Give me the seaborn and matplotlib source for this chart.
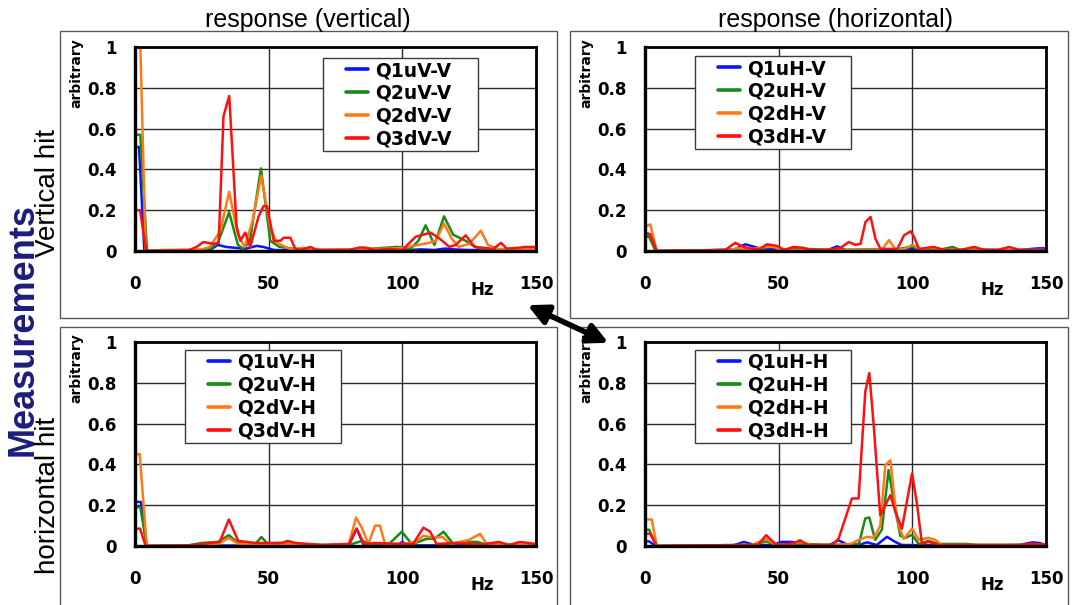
import numpy as np
import pandas as pd
import seaborn as sns
import matplotlib
matplotlib.use("Agg")
import matplotlib.pyplot as plt
from matplotlib.patches import Rectangle, FancyArrowPatch

# ---------------- data ----------------
x_ticks = [0, 50, 100, 150]
y_ticks = [0, 0.2, 0.4, 0.6, 0.8, 1]
y_tick_labels = ["0", "0.2", "0.4", "0.6", "0.8", "1"]
col_titles = ["response (vertical)", "response (horizontal)"]
row_titles = ["Vertical hit", "horizontal hit"]

# Panel: vertical hit, vertical response
tl_names = ["Q1uV-V", "Q2uV-V", "Q2dV-V", "Q3dV-V"]
tl_q1u_f = [0, 1.5, 3.5, 10, 28, 31, 34, 38, 41, 45.5, 48, 52, 60, 100, 107, 112, 116, 119, 125, 140, 150]
tl_q1u_v = [0.51, 0.51, 0, 0.003, 0.005, 0.03, 0.02, 0.015, 0.01, 0.025, 0.02, 0.005, 0.003, 0.003, 0.008, 0.005, 0.012, 0.008, 0.005, 0.005, 0.005]
tl_q2u_f = [0, 2, 4.5, 25, 28, 31, 35.2, 38.5, 40.5, 43, 47.1, 50.6, 54, 60, 70, 85, 98, 100, 103, 106, 108.7, 112, 115.6, 119, 123.7, 126, 130, 140, 150]
tl_q2u_v = [0.57, 0.57, 0, 0.003, 0.01, 0.04, 0.19, 0.03, 0.01, 0.05, 0.405, 0.05, 0.02, 0.01, 0.005, 0.008, 0.02, 0.018, 0.01, 0.05, 0.126, 0.03, 0.17, 0.08, 0.05, 0.03, 0.005, 0.005, 0.005]
tl_q2d_f = [0, 1.5, 4, 10, 25, 28, 32, 35.2, 38.5, 41, 44, 47.2, 50.5, 53, 58, 63, 70, 80, 90, 100, 106, 110, 112.5, 115.6, 118.5, 121, 125, 129.4, 132, 136, 140, 145, 150]
tl_q2d_v = [1.35, 1.25, 0, 0.005, 0.008, 0.02, 0.1, 0.29, 0.08, 0.02, 0.15, 0.37, 0.12, 0.04, 0.01, 0.015, 0.005, 0.008, 0.01, 0.015, 0.03, 0.04, 0.05, 0.135, 0.06, 0.02, 0.035, 0.1, 0.03, 0.01, 0.01, 0.005, 0.01]
tl_q3d_f = [0, 1.9, 4.2, 20, 23, 25.6, 29.4, 31.3, 33.1, 35.25, 38, 39.4, 41.25, 43.1, 46.25, 48.1, 49.4, 51.9, 54.4, 55.6, 58.1, 60, 62, 65.6, 68, 75, 80, 84, 86, 90, 95, 100, 105, 110.6, 114, 117.6, 120, 123.7, 127, 131, 134, 136.9, 139, 143, 146, 150]
tl_q3d_v = [0.2, 0.2, 0, 0.003, 0.02, 0.044, 0.035, 0.04, 0.66, 0.76, 0.12, 0.05, 0.09, 0.02, 0.17, 0.22, 0.22, 0.05, 0.05, 0.065, 0.065, 0.01, 0.005, 0.02, 0.005, 0.005, 0.005, 0.017, 0.017, 0.005, 0.01, 0.005, 0.07, 0.09, 0.06, 0.02, 0.03, 0.077, 0.02, 0.015, 0.01, 0.04, 0.012, 0.015, 0.02, 0.02]

# Panel: vertical hit, horizontal response
tr_names = ["Q1uH-V", "Q2uH-V", "Q2dH-V", "Q3dH-V"]
tr_q1u_f = [0, 1.5, 4, 20, 33, 37.5, 41, 44, 47, 50, 60, 68, 71.9, 75, 85, 100, 110, 120, 130, 140, 147, 150]
tr_q1u_v = [0.085, 0.085, 0, 0.003, 0.005, 0.033, 0.02, 0.008, 0.01, 0.005, 0.005, 0.003, 0.023, 0.005, 0.005, 0.01, 0.005, 0.005, 0.003, 0.005, 0.013, 0.013]
tr_q2u_f = [0, 1.5, 4, 20, 35, 44, 47, 50, 60, 75, 85, 95, 100, 103, 110, 115, 118, 125, 135, 150]
tr_q2u_v = [0.07, 0.07, 0, 0.003, 0.008, 0.01, 0.028, 0.008, 0.01, 0.005, 0.008, 0.01, 0.022, 0.008, 0.005, 0.02, 0.005, 0.008, 0.005, 0.005]
tr_q2d_f = [0, 2, 4.4, 20, 32, 35, 38, 45, 48, 52, 60, 80, 88.7, 91.25, 93.7, 97, 100, 103, 108, 112, 150]
tr_q2d_v = [0.12, 0.13, 0, 0.003, 0.005, 0.015, 0.005, 0.02, 0.02, 0.005, 0.005, 0.005, 0.008, 0.053, 0.008, 0.01, 0.03, 0.008, 0.015, 0.005, 0.005]
tr_q3d_f = [0, 1.9, 4.4, 20, 30, 33.75, 36.9, 40, 43, 45.6, 49.4, 52, 55.6, 59.4, 62, 68, 71.9, 73.1, 76.2, 78.7, 80.6, 82.5, 84.4, 86.2, 88.1, 94.4, 96.9, 99.4, 100.6, 102.5, 108, 112, 118, 123.1, 127, 132, 136.2, 140, 150]
tr_q3d_v = [0.082, 0.082, 0, 0.003, 0.005, 0.04, 0.02, 0.01, 0.01, 0.033, 0.025, 0.005, 0.02, 0.015, 0.005, 0.005, 0.013, 0.015, 0.044, 0.03, 0.035, 0.143, 0.167, 0.06, 0.01, 0.01, 0.077, 0.097, 0.07, 0.01, 0.02, 0.005, 0.005, 0.02, 0.005, 0.005, 0.02, 0.005, 0.003]

# Panel: horizontal hit, vertical response
bl_names = ["Q1uV-H", "Q2uV-H", "Q2dV-H", "Q3dV-H"]
bl_q1u_f = [0, 2.2, 4.4, 20, 80, 82.9, 85.5, 90, 98, 100, 102, 150]
bl_q1u_v = [0.216, 0.216, 0, 0.002, 0.003, 0.085, 0.005, 0.003, 0.003, 0.02, 0.003, 0.003]
bl_q2u_f = [0, 2, 4.4, 20, 25, 31, 35.1, 38.6, 45, 47.3, 49.5, 55, 60, 70, 80, 84.9, 88, 95, 99.8, 103.5, 106, 109, 112, 115.4, 119.1, 122, 128, 132, 140, 150]
bl_q2u_v = [0.19, 0.19, 0, 0.003, 0.015, 0.02, 0.053, 0.015, 0.01, 0.044, 0.012, 0.015, 0.01, 0.005, 0.005, 0.025, 0.01, 0.01, 0.07, 0.01, 0.02, 0.035, 0.035, 0.07, 0.01, 0.02, 0.02, 0.005, 0.005, 0.005]
bl_q2d_f = [0, 1.75, 4.4, 20, 31, 35.1, 38.6, 45, 50, 60, 70, 80, 82.7, 84.8, 87.3, 89.8, 91.6, 93.5, 100, 105, 107.9, 112, 115, 118, 125, 129.1, 131.5, 140, 150]
bl_q2d_v = [0.45, 0.45, 0, 0.003, 0.01, 0.04, 0.01, 0.01, 0.01, 0.01, 0.005, 0.01, 0.14, 0.09, 0.01, 0.1, 0.1, 0.01, 0.01, 0.02, 0.05, 0.04, 0.045, 0.01, 0.03, 0.06, 0.01, 0.008, 0.005]
bl_q3d_f = [0, 1.9, 4, 20, 31.7, 35.1, 38.6, 45, 55, 57, 60, 70, 80, 82.9, 85.7, 90, 95, 100, 104, 107.9, 110.4, 112.8, 120, 130, 136, 140, 144, 150]
bl_q3d_v = [0.085, 0.085, 0, 0.003, 0.02, 0.13, 0.025, 0.015, 0.015, 0.025, 0.015, 0.005, 0.01, 0.085, 0.01, 0.015, 0.012, 0.01, 0.01, 0.09, 0.07, 0.01, 0.015, 0.008, 0.02, 0.005, 0.02, 0.01]

# Panel: horizontal hit, horizontal response
br_names = ["Q1uH-H", "Q2uH-H", "Q2dH-H", "Q3dH-H"]
br_q1u_f = [0, 1.5, 4, 20, 33, 37, 41, 48, 51, 55, 58, 65, 69, 72.4, 76, 80, 83, 86.7, 90.5, 93.6, 96, 110, 130, 140, 144.9, 147.4, 150]
br_q1u_v = [0.023, 0.023, 0, 0.002, 0.003, 0.02, 0.005, 0.005, 0.02, 0.02, 0.01, 0.003, 0.005, 0.028, 0.005, 0.005, 0.018, 0.005, 0.045, 0.02, 0.005, 0.003, 0.003, 0.005, 0.018, 0.015, 0.005]
br_q2u_f = [0, 1.5, 4.4, 20, 40, 45.3, 49, 55, 60, 70, 80, 82.4, 83.9, 86.1, 88.6, 91.1, 93.6, 95.5, 97.4, 99.9, 102.4, 106, 110, 120, 125, 135, 150]
br_q2u_v = [0.08, 0.08, 0, 0.003, 0.005, 0.023, 0.005, 0.008, 0.01, 0.005, 0.01, 0.135, 0.14, 0.03, 0.08, 0.372, 0.18, 0.05, 0.04, 0.055, 0.01, 0.025, 0.01, 0.01, 0.005, 0.005, 0.005]
br_q2d_f = [0, 2.5, 4.4, 20, 40, 45.3, 49, 55, 58, 62, 70, 77, 79.9, 83, 85.6, 88, 89.9, 91.8, 93.6, 94.9, 96.8, 99.9, 102.4, 106.1, 108.6, 111, 150]
br_q2d_v = [0.13, 0.13, 0, 0.003, 0.005, 0.035, 0.005, 0.01, 0.02, 0.005, 0.005, 0.01, 0.03, 0.045, 0.04, 0.1, 0.397, 0.42, 0.2, 0.1, 0.035, 0.085, 0.03, 0.04, 0.03, 0.005, 0.005]
br_q3d_f = [0, 1.9, 4.4, 20, 40, 42.4, 45.3, 49.2, 55, 58, 61, 70, 72.4, 77.4, 79.9, 82.4, 83.9, 85.5, 88, 91.8, 93.6, 96.1, 99.9, 101.8, 103.6, 106, 110, 140, 145, 150]
br_q3d_v = [0.06, 0.06, 0, 0.003, 0.005, 0.008, 0.053, 0.005, 0.01, 0.028, 0.005, 0.005, 0.036, 0.233, 0.233, 0.757, 0.848, 0.6, 0.15, 0.25, 0.17, 0.085, 0.356, 0.2, 0.01, 0.02, 0.005, 0.005, 0.012, 0.005]

series_colors = ["#0a14ff", "#178a17", "#ff7a14", "#ff1010"]

panels = [
    (tl_names, [(tl_q1u_f, tl_q1u_v), (tl_q2u_f, tl_q2u_v), (tl_q2d_f, tl_q2d_v), (tl_q3d_f, tl_q3d_v)]),
    (tr_names, [(tr_q1u_f, tr_q1u_v), (tr_q2u_f, tr_q2u_v), (tr_q2d_f, tr_q2d_v), (tr_q3d_f, tr_q3d_v)]),
    (bl_names, [(bl_q1u_f, bl_q1u_v), (bl_q2u_f, bl_q2u_v), (bl_q2d_f, bl_q2d_v), (bl_q3d_f, bl_q3d_v)]),
    (br_names, [(br_q1u_f, br_q1u_v), (br_q2u_f, br_q2u_v), (br_q2d_f, br_q2d_v), (br_q3d_f, br_q3d_v)]),
]

# ---------------- figure ----------------
sns.set_style("white")
plt.rcParams["font.family"] = ["DejaVu Sans"]
plt.rcParams["text.color"] = "black"
plt.rcParams["xtick.color"] = "black"
plt.rcParams["ytick.color"] = "black"
plt.rcParams["axes.labelcolor"] = "black"

W, H = 1073, 605
fig = plt.figure(figsize=(W / 100, H / 100), dpi=100)
fig.patch.set_facecolor("white")


def px_rect(x0, y0, x1, y1):
    """pixel box (top-left origin) -> figure fraction rect"""
    return [x0 / W, (H - y1) / H, (x1 - x0) / W, (y1 - y0) / H]


# outer panel boxes
boxes = [(60, 31, 557, 318), (570, 31, 1068, 318), (60, 327, 557, 607), (570, 327, 1068, 607)]
for b in boxes:
    r = px_rect(*b)
    fig.add_artist(Rectangle((r[0], r[1]), r[2], r[3], transform=fig.transFigure,
                             fill=False, edgecolor="#5a5a5a", lw=1.0, zorder=0))

axes_px = [(135, 47, 536, 251), (645, 47, 1046, 251), (135, 342, 536, 546), (645, 342, 1046, 546)]
legend_px = [(323, 58, 478, 151), (695, 56, 851, 149), (185, 350, 341, 443), (695, 350, 851, 443)]

for (names, series), apx, lpx in zip(panels, axes_px, legend_px):
    ax = fig.add_axes(px_rect(*apx))
    frames = []
    for name, (f, v) in zip(names, series):
        frames.append(pd.DataFrame({"Hz": f, "value": v, "series": name}))
    df = pd.concat(frames, ignore_index=True)
    sns.lineplot(data=df, x="Hz", y="value", hue="series", hue_order=names,
                 palette=series_colors, estimator=None, sort=False,
                 lw=1.8, ax=ax, legend=False)
    ax.set_xlim(0, 150)
    ax.set_ylim(0, 1)
    ax.set_xticks(x_ticks)
    ax.set_xticklabels([str(t) for t in x_ticks], fontsize=12, fontweight="bold")
    ax.set_yticks(y_ticks)
    ax.set_yticklabels(y_tick_labels, fontsize=12, fontweight="bold")
    ax.tick_params(axis="x", length=0, pad=17, colors="black")
    ax.tick_params(axis="y", length=0, pad=13, colors="black")
    ax.set_xlabel("")
    ax.set_ylabel("")
    ax.grid(True, color="#2a2a2a", lw=1.0)
    ax.set_axisbelow(True)
    for s in ax.spines.values():
        s.set_visible(True)
        s.set_color("black")
        s.set_linewidth(2.0)
    ax.spines["left"].set_linewidth(2.4)
    ax.spines["bottom"].set_linewidth(2.4)

    # axis labels
    ax.text(-0.146, 0.87, "arbitrary", transform=ax.transAxes, rotation=90,
            ha="center", va="center", fontsize=10, fontweight="bold", color="black")
    ax.text(0.866, -0.19, "Hz", transform=ax.transAxes, ha="center", va="center",
            fontsize=12, fontweight="bold", color="black")

    # legend frame + legend
    ax_w = apx[2] - apx[0]
    ax_h = apx[3] - apx[1]
    lx0 = (lpx[0] - apx[0]) / ax_w
    ly0 = (apx[3] - lpx[3]) / ax_h
    lw_ = (lpx[2] - lpx[0]) / ax_w
    lh_ = (lpx[3] - lpx[1]) / ax_h
    ax.add_patch(Rectangle((lx0, ly0), lw_, lh_, transform=ax.transAxes,
                           facecolor="white", edgecolor="#3a3a3a", lw=1.0, zorder=4))
    handles = [plt.Line2D([], [], color=c, lw=2.6) for c in series_colors]
    anchor_x = (lpx[0] + 23 - apx[0]) / ax_w
    anchor_y = (apx[3] - (lpx[1] + 3)) / ax_h
    leg = ax.legend(handles, names, loc="upper left", bbox_to_anchor=(anchor_x, anchor_y),
                    frameon=False, borderpad=0, borderaxespad=0, handlelength=1.15,
                    handletextpad=0.4, labelspacing=0.2,
                    prop={"family": "DejaVu Sans", "weight": "bold", "size": 13.5})
    for t in leg.get_texts():
        t.set_color("black")
    leg.set_zorder(5)

# column titles
fig.text(308 / W, 1 - 20 / H, col_titles[0], ha="center", va="center",
         fontsize=18, family="Liberation Sans", color="black")
fig.text(836 / W, 1 - 20 / H, col_titles[1], ha="center", va="center",
         fontsize=18, family="Liberation Sans", color="black")

# row titles
fig.text(23 / W, 1 - 330 / H, "Measurements", rotation=90, ha="center", va="center",
         fontsize=26, fontweight="bold", color="#1c1c7c", family="Liberation Sans")
fig.text(48 / W, 1 - 193 / H, row_titles[0], rotation=90, ha="center", va="center",
         fontsize=20, family="Liberation Sans", color="black")
fig.text(48 / W, 1 - 495 / H, row_titles[1], rotation=90, ha="center", va="center",
         fontsize=20, family="Liberation Sans", color="black")

# double-headed arrow between panels
fig.add_artist(FancyArrowPatch((525 / W, 1 - 304 / H), (611 / W, 1 - 344 / H),
                               transform=fig.transFigure, arrowstyle="<|-|>",
                               mutation_scale=30, lw=4.0, color="black", zorder=10))

fig.savefig("out.png", dpi=100)
